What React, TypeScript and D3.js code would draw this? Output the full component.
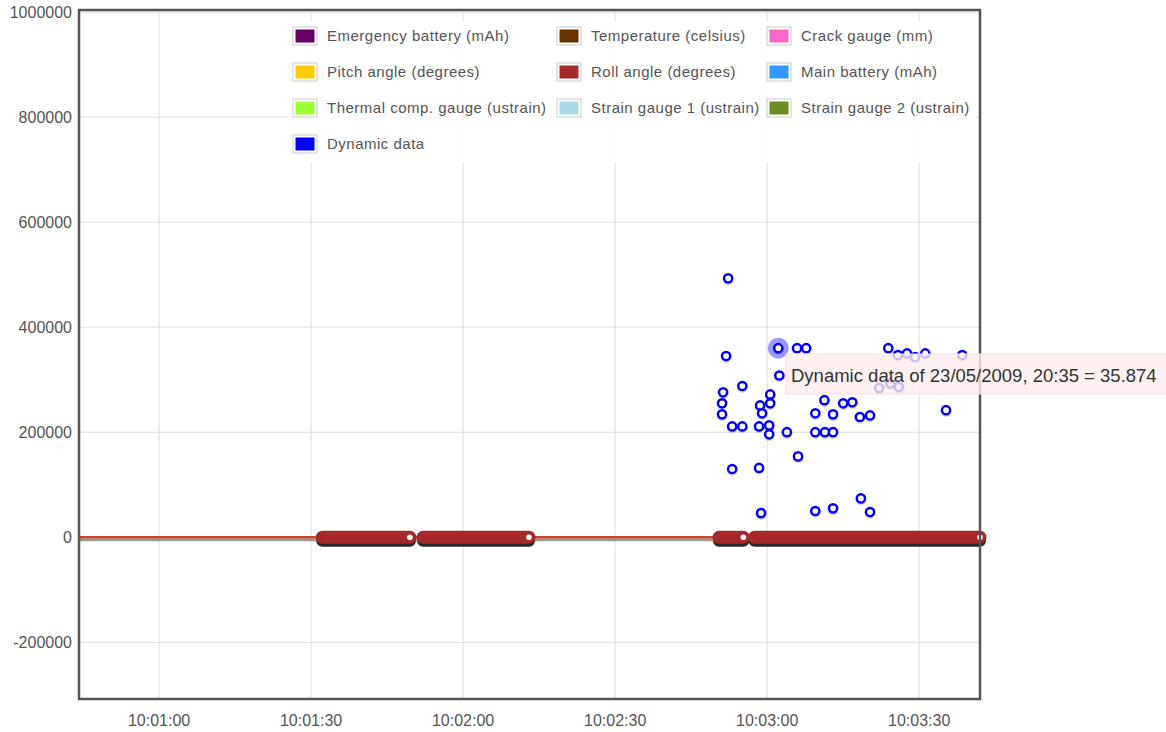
import * as d3 from "d3";

// y ticks and x tick labels
const yTicks = [-200000, 0, 200000, 400000, 600000, 800000, 1000000];
const xTickLabels = ["10:01:00", "10:01:30", "10:02:00", "10:02:30", "10:03:00", "10:03:30"];

const legendLabels = [
  "Emergency battery (mAh)",
  "Temperature (celsius)",
  "Crack gauge (mm)",
  "Pitch angle (degrees)",
  "Roll angle (degrees)",
  "Main battery (mAh)",
  "Thermal comp. gauge (ustrain)",
  "Strain gauge 1 (ustrain)",
  "Strain gauge 2 (ustrain)",
  "Dynamic data",
];
const legendColors = [
  "#660066", "#663300", "#ff66cc",
  "#ffcc00", "#a52a2a", "#3399ff",
  "#99ff33", "#add8e6", "#6b8e23",
  "#0000ff",
];

// flat series at zero, and the dense bursts of roll angle samples
const zeroLine = ["10:00:44.2", "10:03:42.0"];
const rollBursts = [
  ["10:01:32.2", "10:01:49.5"],
  ["10:01:52.1", "10:02:13.0"],
  ["10:02:50.5", "10:02:55.3"],
  ["10:02:57.5", "10:03:42.0"],
];

// Dynamic data scatter
const dynTimes = [
  "10:02:51.1", "10:02:51.1", "10:02:51.3", "10:02:51.9", "10:02:52.3", "10:02:53.1",
  "10:02:53.1", "10:02:55.1", "10:02:55.1", "10:02:58.4", "10:02:58.4", "10:02:58.6",
  "10:02:58.8", "10:02:59.0", "10:03:00.4", "10:03:00.4", "10:03:00.6", "10:03:00.6",
  "10:03:02.2", "10:03:02.4", "10:03:03.9", "10:03:05.9", "10:03:06.1", "10:03:07.7",
  "10:03:09.5", "10:03:09.5", "10:03:09.5", "10:03:11.3", "10:03:11.4", "10:03:13.0",
  "10:03:13.0", "10:03:13.0", "10:03:15.0", "10:03:16.8", "10:03:18.3", "10:03:18.5",
  "10:03:20.3", "10:03:20.3", "10:03:22.1", "10:03:23.9", "10:03:24.3", "10:03:25.8",
  "10:03:26.0", "10:03:27.6", "10:03:29.2", "10:03:31.2", "10:03:35.3", "10:03:38.5",
];
const dynValues = [
  255000, 234000, 276000, 345000, 493000, 211000,
  130000, 288000, 211000, 211000, 132000, 251000,
  46000, 236000, 213000, 196000, 272000, 255000,
  360000, 308000, 200000, 360000, 154000, 360000,
  236000, 200000, 50000, 261000, 200000, 234000,
  200000, 55000, 255000, 257000, 229000, 74000,
  232000, 48000, 284000, 360000, 293000, 347000,
  286000, 350000, 343000, 350000, 242000, 347000,
];
const hoveredIndex = 18;
const tooltipText = "Dynamic data of 23/05/2009, 20:35 = 35.874";

const W = 1166;
const H = 732;
const margin = { left: 79, top: 10, right: 186, bottom: 33 };

function t(s: string) {
  const [h, m, sec] = s.split(":").map(Number);
  return new Date(2009, 4, 23, h, m, 0, Math.round(sec * 1000));
}

export default function App() {
  const x = d3
    .scaleTime()
    .domain([t(zeroLine[0]), t(zeroLine[1])])
    .range([margin.left, W - margin.right]);
  const y = d3
    .scaleLinear()
    .domain([-308000, 1004000])
    .range([H - margin.bottom, margin.top]);

  const x0 = margin.left;
  const x1 = W - margin.right;
  const y0 = margin.top;
  const y1 = H - margin.bottom;
  const font = "'Liberation Sans', Arial, sans-serif";
  const zy = y(0);

  const hx = x(t(dynTimes[hoveredIndex]));
  const hy = y(dynValues[hoveredIndex]);

  return (
    <div style={{ position: "absolute", left: 0, top: 0 }}>
      <svg width={W} height={H} style={{ display: "block" }}>
        <rect width={W} height={H} fill="#fff" />
        {/* grid */}
        {yTicks.map((v) => (
          <line key={v} x1={x0} x2={x1} y1={y(v)} y2={y(v)} stroke="#dedede" />
        ))}
        {xTickLabels.map((s) => (
          <line key={s} x1={x(t(s))} x2={x(t(s))} y1={y0} y2={y1} stroke="#dedede" />
        ))}

        {/* zero line with shadow */}
        <line x1={x(t(zeroLine[0]))} x2={x(t(zeroLine[1]))} y1={zy + 2.5} y2={zy + 2.5}
          stroke="#999" strokeWidth={3} />
        <line x1={x(t(zeroLine[0]))} x2={x(t(zeroLine[1]))} y1={zy} y2={zy}
          stroke="#c8452a" strokeWidth={2.5} />

        {/* roll angle bursts */}
        {rollBursts.map(([a, b]) => (
          <line key={a + "s"} x1={x(t(a))} x2={x(t(b))} y1={zy + 3.5} y2={zy + 3.5}
            stroke="#111" strokeWidth={12} strokeLinecap="round" opacity={0.9} />
        ))}
        {rollBursts.map(([a, b]) => (
          <line key={a} x1={x(t(a))} x2={x(t(b))} y1={zy} y2={zy}
            stroke="#a5282a" strokeWidth={13} strokeLinecap="round" />
        ))}
        {rollBursts.map(([a, b]) => (
          <circle key={b} cx={x(t(b))} cy={zy} r={2.8} fill="#fff" />
        ))}

        {/* dynamic data */}
        <circle cx={hx} cy={hy} r={10.5} fill="rgba(50,50,255,0.5)" />
        {dynTimes.map((s, i) => (
          <circle key={"sh" + i} cx={x(t(s))} cy={y(dynValues[i]) + 1.5} r={4.2}
            fill="none" stroke="rgba(0,0,0,0.12)" strokeWidth={2.5} />
        ))}
        {dynTimes.map((s, i) => (
          <circle key={i} cx={x(t(s))} cy={y(dynValues[i])} r={4.1}
            fill="#fff" stroke="#0000ff" strokeWidth={2.5} />
        ))}

        {/* frame */}
        <rect x={x0} y={y0} width={x1 - x0} height={y1 - y0} fill="none"
          stroke="#545454" strokeWidth={2.5} />

        {/* y labels */}
        {yTicks.map((v) => (
          <text key={v} x={x0 - 7} y={y(v)} dy="0.35em" textAnchor="end"
            fontFamily={font} fontSize={16} fill="#545454">
            {v}
          </text>
        ))}
        {/* x labels */}
        {xTickLabels.map((s) => (
          <text key={s} x={x(t(s))} y={y1 + 21} dy="0.35em" textAnchor="middle"
            fontFamily={font} fontSize={16} fill="#545454">
            {d3.timeFormat("%H:%M:%S")(t(s))}
          </text>
        ))}

        {/* legend */}
        <rect x={288} y={22} width={688} height={140} fill="#fff" opacity={0.88} />
        {legendLabels.map((lab, i) => {
          const col = i % 3;
          const row = Math.floor(i / 3);
          const lx = [293, 557, 767][col];
          const ly = 36 + row * 36;
          return (
            <g key={lab}>
              <rect x={lx} y={ly - 9} width={24} height={18} fill="#fff" stroke="#ccc" />
              <rect x={lx + 2.5} y={ly - 6.5} width={19} height={13} fill={legendColors[i]} />
              <text x={lx + 34} y={ly} dy="0.35em" fontFamily={font}
                fontSize={15} letterSpacing={0.5} fill="#545454">
                {lab}
              </text>
            </g>
          );
        })}

        {/* tooltip */}
        <rect x={786} y={354} width={390} height={40} fill="#fee" fillOpacity={0.8}
          stroke="#fdd" />
        <text x={791} y={376} dy="0.35em" fontFamily={font} fontSize={18.5} fill="#333">
          {tooltipText}
        </text>
      </svg>
    </div>
  );
}
